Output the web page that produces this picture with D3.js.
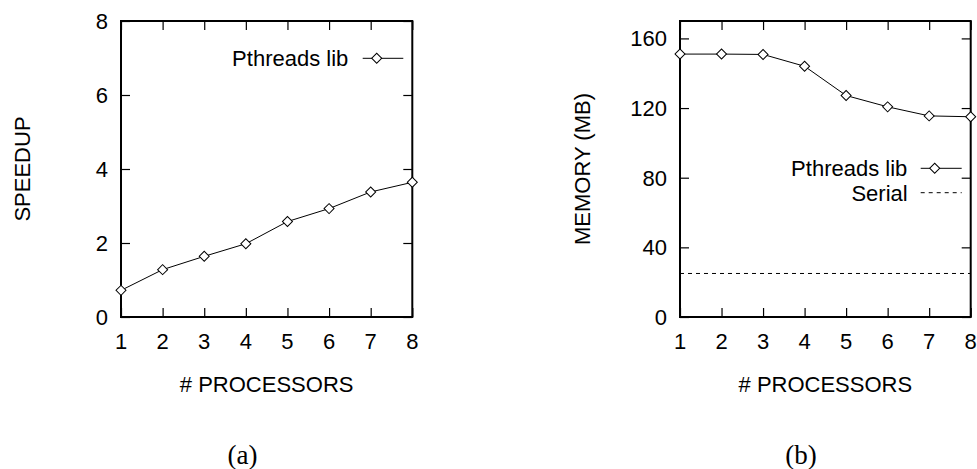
<!DOCTYPE html>
<html>
<head>
<meta charset="utf-8">
<script src="https://cdn.jsdelivr.net/npm/d3@7"></script>
<style>
  body { margin: 0; background: #fff; }
  svg { display: block; font-family: "Liberation Sans", Arial, sans-serif; }
</style>
</head>
<body>
<svg id="chart" width="977" height="469"></svg>
<script>
// Data
const processors = [1, 2, 3, 4, 5, 6, 7, 8];
const speedup = [0.72, 1.28, 1.64, 1.98, 2.58, 2.93, 3.38, 3.64];
const memory = [151, 151, 150.8, 144, 127.2, 120.7, 115.5, 115];
const serialMemory = 25;
const speedupTicks = [0, 2, 4, 6, 8];
const memoryTicks = [0, 40, 80, 120, 160];

const svg = d3.select("#chart");
const fontSize = 22;
const tickLen = 9;

// Diamond marker (square turned 45 degrees)
const diamond = d3.symbol().type(d3.symbolSquare).size(50);

function drawPanel(opts) {
    const x = d3.scaleLinear().domain([1, 8]).range([opts.left, opts.right]);
    const y = d3.scaleLinear().domain(opts.yDomain).range([opts.bottom, opts.top]);
    const g = svg.append("g");

    // Inward ticks on all four sides
    g.append("g")
        .attr("transform", `translate(0,${opts.bottom})`)
        .call(d3.axisBottom(x).tickValues(processors).tickSizeInner(-tickLen).tickSizeOuter(0).tickFormat(""))
        .call(a => a.select(".domain").remove());
    g.append("g")
        .attr("transform", `translate(0,${opts.top})`)
        .call(d3.axisTop(x).tickValues(processors).tickSizeInner(-tickLen).tickSizeOuter(0).tickFormat(""))
        .call(a => a.select(".domain").remove());
    g.append("g")
        .attr("transform", `translate(${opts.left},0)`)
        .call(d3.axisLeft(y).tickValues(opts.yTicks).tickSizeInner(-tickLen).tickSizeOuter(0).tickFormat(""))
        .call(a => a.select(".domain").remove());
    g.append("g")
        .attr("transform", `translate(${opts.right},0)`)
        .call(d3.axisRight(y).tickValues(opts.yTicks).tickSizeInner(-tickLen).tickSizeOuter(0).tickFormat(""))
        .call(a => a.select(".domain").remove());
    g.selectAll(".tick line").attr("stroke", "#000").attr("stroke-width", 1.2);

    // Tick labels
    g.selectAll("text.xlab")
        .data(processors)
        .join("text")
        .attr("x", d => x(d))
        .attr("y", 341)
        .attr("dy", "0.36em")
        .attr("text-anchor", "middle")
        .attr("font-size", fontSize)
        .text(d => d);

    g.selectAll("text.ylab")
        .data(opts.yTicks)
        .join("text")
        .attr("x", opts.left - 13)
        .attr("y", d => y(d))
        .attr("dy", "0.36em")
        .attr("text-anchor", "end")
        .attr("font-size", fontSize)
        .text(d => d);

    // Axis titles
    g.append("text")
        .attr("x", (opts.left + opts.right) / 2)
        .attr("y", 384)
        .attr("dy", "0.36em")
        .attr("text-anchor", "middle")
        .attr("font-size", fontSize)
        .text("# PROCESSORS");

    g.append("text")
        .attr("transform", `translate(${opts.yTitleX},${(opts.top + opts.bottom) / 2}) rotate(-90)`)
        .attr("dy", "0.36em")
        .attr("text-anchor", "middle")
        .attr("font-size", fontSize)
        .text(opts.yTitle);

    // Caption
    g.append("text")
        .attr("x", opts.captionX)
        .attr("y", 464)
        .attr("text-anchor", "middle")
        .attr("font-family", "'Liberation Serif', 'Times New Roman', serif")
        .attr("font-size", 27)
        .text(opts.caption);

    return { g, x, y };
}

function drawSeries(panel, values) {
    const line = d3.line().x((d, i) => panel.x(processors[i])).y(d => panel.y(d));
    panel.g.append("path")
        .datum(values)
        .attr("d", line)
        .attr("fill", "none")
        .attr("stroke", "#000")
        .attr("stroke-width", 1);
    panel.g.selectAll("path.pt")
        .data(values)
        .join("path")
        .attr("class", "pt")
        .attr("d", diamond)
        .attr("transform", (d, i) => `translate(${panel.x(processors[i])},${panel.y(d)}) rotate(45)`)
        .attr("fill", "#fff")
        .attr("stroke", "#000")
        .attr("stroke-width", 1);
}

function legendEntry(panel, label, cy, x0, x1, textRight, dashed, marker) {
    panel.g.append("text")
        .attr("x", textRight)
        .attr("y", cy)
        .attr("dy", "0.36em")
        .attr("text-anchor", "end")
        .attr("font-size", fontSize)
        .text(label);
    panel.g.append("line")
        .attr("x1", x0).attr("x2", x1)
        .attr("y1", cy).attr("y2", cy)
        .attr("stroke", "#000")
        .attr("stroke-width", 1)
        .attr("stroke-dasharray", dashed ? "4,4" : null);
    if (marker) {
        panel.g.append("path")
            .attr("d", diamond)
            .attr("transform", `translate(${x0 + 14},${cy}) rotate(45)`)
            .attr("fill", "#fff")
            .attr("stroke", "#000")
            .attr("stroke-width", 1);
    }
}

function drawFrame(panel, opts) {
    panel.g.append("rect")
        .attr("x", opts.left)
        .attr("y", opts.top)
        .attr("width", opts.right - opts.left)
        .attr("height", opts.bottom - opts.top)
        .attr("fill", "none")
        .attr("stroke", "#000")
        .attr("stroke-width", 2);
}

// (a) speedup
const optsA = {
    left: 121, right: 412.3, top: 21, bottom: 317,
    yDomain: [0, 8], yTicks: speedupTicks,
    yTitle: "SPEEDUP", yTitleX: 22.5,
    caption: "(a)", captionX: 242.5
};
const panelA = drawPanel(optsA);
drawFrame(panelA, optsA);
drawSeries(panelA, speedup);
legendEntry(panelA, "Pthreads lib", 58.3, 362.7, 403.3, 348.3, false, true);

// (b) memory
const optsB = {
    left: 680, right: 970.7, top: 21, bottom: 317,
    yDomain: [0, 170], yTicks: memoryTicks,
    yTitle: "MEMORY (MB)", yTitleX: 581.7,
    caption: "(b)", captionX: 801
};
const panelB = drawPanel(optsB);
drawFrame(panelB, optsB);

// Serial baseline
panelB.g.append("line")
    .attr("x1", panelB.x(1)).attr("x2", panelB.x(8))
    .attr("y1", panelB.y(serialMemory)).attr("y2", panelB.y(serialMemory))
    .attr("stroke", "#000")
    .attr("stroke-width", 1)
    .attr("stroke-dasharray", "4,4");

drawSeries(panelB, memory);
legendEntry(panelB, "Pthreads lib", 168.3, 920.7, 961.7, 907.3, false, true);
legendEntry(panelB, "Serial", 192.7, 920.7, 961.7, 907.7, true, false);
</script>
</body>
</html>
